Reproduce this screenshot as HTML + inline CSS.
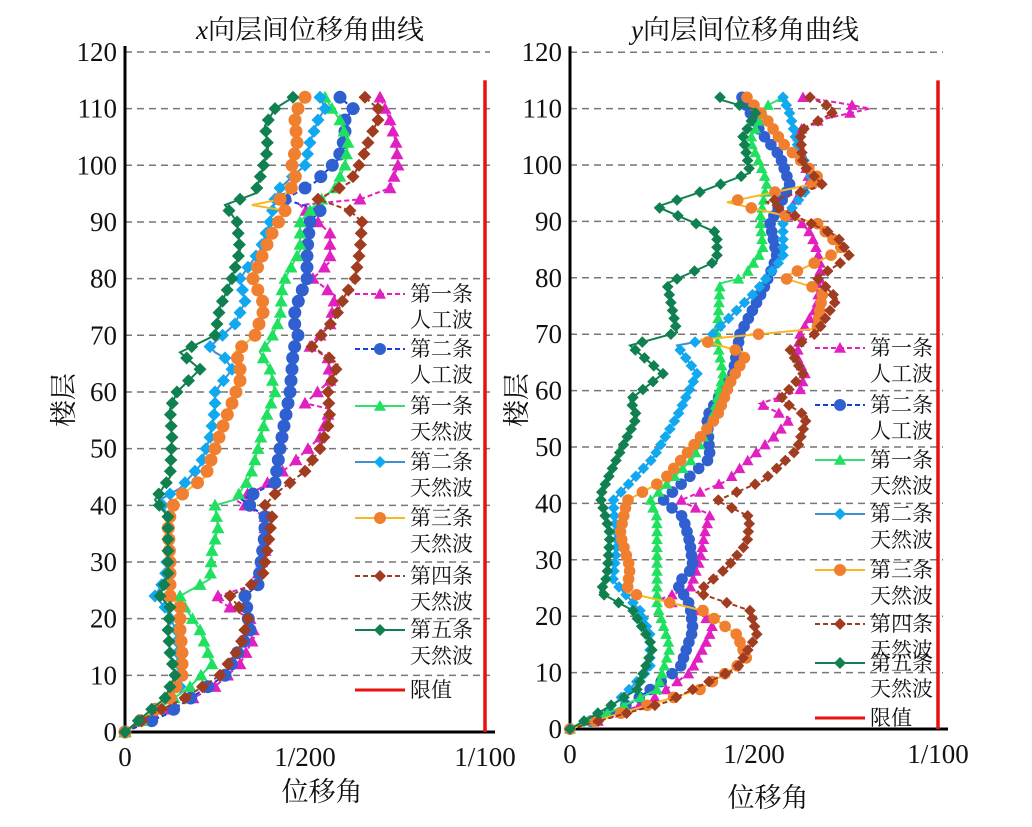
<!DOCTYPE html>
<html><head><meta charset="utf-8"><style>
body{margin:0;background:#fff}
svg text{font-family:"Liberation Serif","Noto Serif CJK SC",serif;fill:#111}
</style></head><body>
<svg id="s" width="1032" height="822" viewBox="0 0 1032 822" xmlns="http://www.w3.org/2000/svg"></svg>
<script>
const S=document.getElementById('s');let h='';
const C={mag:'#e020c0',blu:'#3060d0',grn:'#20e060',lbl:'#10a8f0',org:'#f08030',brn:'#a03c20',dgr:'#108050'};
const LINE={mag:'#e020c0',blu:'#1040e0',grn:'#30e070',lbl:'#4090d0',org:'#f8b820',brn:'#a03c20',dgr:'#108050'};
const DASH={mag:'5,3',blu:'5,3',brn:'5,3'};
const MK={mag:'tri',blu:'cir',grn:'tri',lbl:'dia',org:'cir',brn:'dia',dgr:'dia'};
function mk(t,x,y,c,sz){
 x=+x;y=+y;
 const f=v=>v.toFixed(1);
 if(t=='tri')return `<polygon points="${f(x)},${f(y-sz)} ${f(x-sz)},${f(y+sz*0.8)} ${f(x+sz)},${f(y+sz*0.8)}" fill="${c}"/>`;
 if(t=='cir')return `<circle cx="${f(x)}" cy="${f(y)}" r="${sz}" fill="${c}"/>`;
 return `<polygon points="${f(x)},${f(y-sz)} ${f(x+sz)},${f(y)} ${f(x)},${f(y+sz)} ${f(x-sz)},${f(y)}" fill="${c}"/>`;
}
function interp(p,f){for(let i=0;i<p.length-1;i++){if(f>=p[i][0]&&f<=p[i+1][0]){const t=(f-p[i][0])/((p[i+1][0]-p[i][0])||1);return p[i][1]+t*(p[i+1][1]-p[i][1]);}}return p[p.length-1][1];}
function series(p,k,y0,pf,step,sz){
 let pts=[];for(let f=0;f<=112.01;f+=step){pts.push([interp(p,f),y0-f*pf]);}
 let all=p.map(q=>[q[1],y0-q[0]*pf]);
 h+=`<polyline points="${all.map(a=>a[0].toFixed(1)+','+a[1].toFixed(1)).join(' ')}" fill="none" stroke="${LINE[k]}" stroke-width="2" ${DASH[k]?'stroke-dasharray="'+DASH[k]+'"':''}/>`;
 pts.forEach(a=>h+=mk(MK[k],a[0],a[1],C[k],sz));
}
function axes(x0,y0,pf,xr){
 for(let f=10;f<=120;f+=10){const y=y0-f*pf;h+=`<line x1="${x0}" x2="${xr+5}" y1="${y}" y2="${y}" stroke="#777" stroke-width="1.5" stroke-dasharray="7,5"/>`;}
 for(let f=0;f<=120;f+=10){const y=y0-f*pf;h+=`<text x="${x0-8}" y="${y+9}" font-size="27" text-anchor="end">${f}</text>`;}
 h+=`<line x1="${x0}" x2="${x0}" y1="${y0-120*pf-6}" y2="${y0}" stroke="#000" stroke-width="3"/>`;
 h+=`<line x1="${x0}" x2="${xr+10}" y1="${y0}" y2="${y0}" stroke="#000" stroke-width="3"/>`;
 h+=`<line x1="${xr}" x2="${xr}" y1="${y0-115*pf}" y2="${y0}" stroke="#e81010" stroke-width="3.5"/>`;
 const xm=(x0+xr)/2;
 h+=`<text x="${x0}" y="${y0+34}" font-size="27" text-anchor="middle">0</text><text x="${xm}" y="${y0+34}" font-size="27" text-anchor="middle">1/200</text><text x="${xr}" y="${y0+34}" font-size="27" text-anchor="middle">1/100</text>`;
}
const L0=732,LP=5.667;
axes(125,L0,LP,485);
const Ls={
mag:[[0,125],[3,160],[8,215],[12,240],[17,255],[20,250],[23,220],[24,218],[26,255],[32,265],[38,265],[41,235],[43,260],[47,290],[52,320],[57,330],[58,305],[62,330],[66,328],[68,310],[72,330],[77,335],[80,313],[83,330],[88,330],[93,300],[94,360],[96,390],[100,398],[104,396],[108,390],[110,385],[112,380]],
blu:[[0,125],[3,165],[10,225],[18,250],[24,245],[26,258],[35,265],[38,265],[41,242],[44,275],[50,280],[55,285],[60,290],[64,292],[67,293],[70,298],[73,293],[77,300],[80,307],[85,307],[90,310],[92,320],[94,285],[97,315],[101,338],[105,345],[108,345],[110,353],[112,340]],
grn:[[0,125],[3,150],[8,190],[12,212],[18,200],[22,185],[24,180],[27,210],[32,212],[36,218],[40,215],[41,235],[45,250],[50,258],[55,265],[60,275],[64,270],[67,260],[69,270],[73,280],[78,282],[80,285],[85,300],[90,300],[93,315],[96,335],[100,345],[104,348],[108,340],[110,332],[112,325]],
lbl:[[0,125],[3,150],[8,180],[12,178],[18,176],[22,165],[24,155],[27,165],[32,168],[38,168],[41,160],[43,180],[47,200],[52,210],[57,215],[60,215],[64,232],[66,225],[67,215],[68,210],[72,235],[76,245],[80,240],[85,260],[90,270],[94,275],[96,280],[100,305],[104,310],[108,318],[110,325],[112,320]],
org:[[0,125],[3,148],[6,170],[10,182],[14,182],[18,180],[22,180],[24,170],[30,170],[37,168],[41,175],[45,205],[50,215],[55,225],[58,232],[62,240],[65,240],[67,235],[70,255],[75,265],[80,253],[84,262],[88,272],[92,285],[93,252],[94,280],[97,297],[100,292],[104,297],[108,295],[110,298],[112,305]],
brn:[[0,125],[3,150],[6,185],[10,220],[15,240],[20,248],[24,230],[27,262],[33,268],[38,272],[40,265],[42,275],[46,305],[50,320],[55,330],[60,328],[65,338],[68,312],[73,335],[77,345],[80,355],[85,360],[90,362],[92,350],[94,318],[97,350],[101,362],[105,370],[108,378],[110,378],[112,365]],
dgr:[[0,125],[3,145],[6,165],[10,175],[14,170],[18,168],[22,170],[24,160],[28,168],[33,168],[38,168],[41,155],[45,170],[52,172],[57,170],[60,177],[64,200],[67,180],[70,215],[75,220],[80,232],[85,240],[90,237],[93,225],[95,255],[99,262],[103,268],[107,265],[110,275],[112,293]]};
for(const k in Ls)series(Ls[k],k,L0,LP,2,6.5);
const R0=729,RP=5.64;
axes(570,R0,RP,938);
const Rs={
mag:[[0,570],[2,610],[5,650],[10,690],[15,705],[18,713],[21,700],[23,660],[25,690],[30,700],[35,705],[38,710],[40.5,680],[44,727],[48,750],[52,775],[55,790],[57.7,760],[60,800],[63,805],[66,797],[70,800],[75,817],[80,820],[83,820],[86,815],[88,810],[92,790],[95,800],[97,810],[100,805],[103,800],[106,797],[108,820],[110,870],[111,840],[112,803]],
blu:[[0,570],[2,600],[4.8,633],[10.8,680],[17.5,693],[22,690],[25.7,677],[28.6,693],[33,690],[37.6,683],[40.5,663],[48,710],[55.4,707],[63,733],[70,740],[77.8,763],[83.7,777],[89.7,770],[96.4,790],[101.6,780],[106,760],[112,742]],
grn:[[0,570],[3,610],[7,657],[14.5,670],[22,657],[31,657],[37.6,657],[40.5,650],[48,693],[55.4,713],[63,723],[69,717],[79,720],[80,743],[85,763],[90.4,760],[97,767],[104.5,750],[110.5,767],[112,783]],
lbl:[[0,570],[2,590],[4.8,617],[10.8,650],[16.7,650],[21,640],[26.4,613],[33,617],[40.5,613],[48,653],[55.4,677],[63,697],[68,677],[69,707],[77.8,757],[83.7,783],[90.4,783],[97,813],[103.8,797],[109,790],[112,783]],
org:[[0,570],[2.6,617],[7,700],[12.3,747],[16.7,737],[21,703],[24.2,627],[28.6,630],[34.6,620],[40.5,627],[44,663],[49.5,690],[55.4,717],[61.4,730],[66.6,747],[69,700],[71,817],[77.8,823],[80,783],[85,843],[89.7,817],[93.4,727],[97,823],[103.8,783],[108,767],[112,747]],
brn:[[0,570],[4.8,667],[10.8,737],[16.7,757],[21,750],[24.2,697],[28.6,727],[33,747],[37.6,750],[40.5,717],[44,763],[49.5,797],[55.4,807],[58.4,780],[63,803],[67.3,790],[70.3,817],[76.3,837],[80,817],[83.7,850],[87.4,837],[93.4,767],[96.4,823],[100,803],[106,800],[109.7,837],[112,810]],
dgr:[[0,570],[3,600],[7,637],[14.5,653],[21,633],[24.2,600],[27,607],[34.6,610],[41.3,600],[48,617],[55.4,637],[58.4,630],[63,663],[68,630],[70.3,677],[79,667],[83,717],[88,717],[92.6,657],[95,697],[98.6,750],[105,743],[109.7,757],[111.6,720]]};
for(const k in Rs)series(Rs[k],k,R0,RP,1.4,5.8);
function legend(x,ys,tx){
 const ks=['mag','blu','grn','lbl','org','brn','dgr'];
 const t=[['第一条','人工波'],['第二条','人工波'],['第一条','天然波'],['第二条','天然波'],['第三条','天然波'],['第四条','天然波'],['第五条','天然波']];
 ks.forEach((k,i)=>{const y=ys[i];
  h+=`<line x1="${x}" x2="${x+50}" y1="${y}" y2="${y}" stroke="${LINE[k]}" stroke-width="2" ${DASH[k]?'stroke-dasharray="'+DASH[k]+'"':''}/>`;
  h+=mk(MK[k],x+25,y,C[k],6);
  h+=`<text x="${tx}" y="${y+7}" font-size="21">${t[i][0]}</text><text x="${tx}" y="${y+33}" font-size="21">${t[i][1]}</text>`;});
 const y=ys[7];h+=`<line x1="${x}" x2="${x+50}" y1="${y}" y2="${y}" stroke="#e81010" stroke-width="3"/><text x="${tx}" y="${y+7}" font-size="21">限值</text>`;
}
legend(355,[294,349,406,462,518,576,630,690],410);
legend(815,[348,405,460,514,570,624,663,718],870);
h+=`<text x="310" y="39" font-size="27" text-anchor="middle"><tspan font-style="italic">x</tspan>向层间位移角曲线</text>`;
h+=`<text x="745" y="39" font-size="27" text-anchor="middle"><tspan font-style="italic">y</tspan>向层间位移角曲线</text>`;
h+=`<text x="322" y="801" font-size="27" text-anchor="middle">位移角</text><text x="768" y="807" font-size="27" text-anchor="middle">位移角</text>`;
h+=`<text transform="translate(73,400) rotate(-90)" font-size="27" text-anchor="middle">楼层</text>`;
h+=`<text transform="translate(526,400) rotate(-90)" font-size="27" text-anchor="middle">楼层</text>`;
S.innerHTML=h;
</script>
</body></html>
